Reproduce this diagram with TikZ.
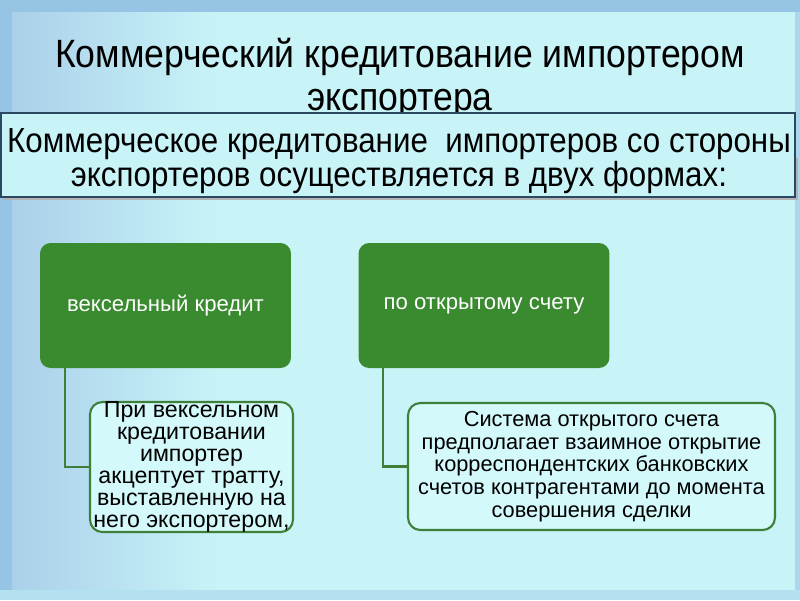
\documentclass[tikz,border=0pt]{standalone}
\usepackage{fontspec}
\setmainfont{Liberation Sans}
\newfontfamily\narrowfont[FakeStretch=0.9]{Liberation Sans}
\usetikzlibrary{positioning, calc}

\definecolor{bgcyan}{RGB}{200,244,248}
\definecolor{bgblue}{RGB}{150,196,228}
\definecolor{formgreen}{RGB}{58,138,48}
\definecolor{linegreen}{RGB}{62,128,58}
\definecolor{boxfill}{RGB}{212,249,251}
\definecolor{framedark}{RGB}{42,72,96}

\begin{document}
\begin{tikzpicture}[x=0.02cm, y=-0.02cm,
    formbox/.style={rectangle, rounded corners=6pt, fill=formgreen, text=white,
        minimum width=5.02cm, minimum height=2.5cm, font=\fontsize{12.6}{15}\selectfont},
    notebox/.style={rectangle, rounded corners=7pt, draw=linegreen, line width=1.2pt,
        fill=boxfill},
    notetext/.style={align=center, inner sep=0pt},
    link/.style={draw=linegreen, line width=1.2pt}]
\useasboundingbox (0,0) rectangle (800,600);

% Background
\fill[bgblue] (0,0) rectangle (800,600);
\fill[left color=bgblue!80!white, right color=bgcyan] (12,12) rectangle (220,590);
\fill[bgcyan] (220,12) rectangle (795,590);
\fill[bgblue!60!bgcyan] (795,12) rectangle (800,600);
\fill[bgblue!40!bgcyan] (0,590) rectangle (800,600);

% Title
\node[align=center, inner sep=0pt, font=\narrowfont\fontsize{22.5}{24.4}\selectfont] (title) at (400,78)
    {Коммерческий кредитование импортером\\экспортера};

% Subtitle box
\fill[gray!60] (3,158) rectangle (798,200);
\node[draw=framedark, line width=1.2pt, fill=bgcyan, minimum width=15.88cm,
    minimum height=1.68cm] (sub) at (398,155) {};
\node[align=center, inner sep=0pt, font=\narrowfont\fontsize{19.8}{19.4}\selectfont] (subtext) at (399,161)
    {Коммерческое кредитование \ импортеров со стороны\\
     экспортеров осуществляется в двух формах:};

% Two forms
\node[formbox] (bill) at (165.5,305.5) {вексельный кредит};
\node[formbox] (open) at (484,305.5) {по открытому счету};

% Notes under each form
\node[notebox, minimum width=4.06cm, minimum height=2.6cm] (billnote) at (191.5,467) {};
\node[notetext, font=\fontsize{13.2}{12.6}\selectfont] (billtext) at (billnote.center)
    {При вексельном\\кредитовании\\импортер\\акцептует тратту,\\выставленную на\\него экспортером,};

\node[notebox, minimum width=7.34cm, minimum height=2.54cm] (opennote) at (591.5,466.5) {};
\node[notetext, font=\fontsize{12.4}{13}\selectfont] (opentext) at (opennote.center)
    {Система открытого счета\\предполагает взаимное открытие\\корреспондентских банковских\\счетов контрагентами до момента\\совершения сделки};

% Connectors
\draw[link] ($(bill.south west)+(25,0)$) |- (billnote.west);
\draw[link] ($(open.south west)+(25,0)$) |- (opennote.west);
\end{tikzpicture}
\end{document}
